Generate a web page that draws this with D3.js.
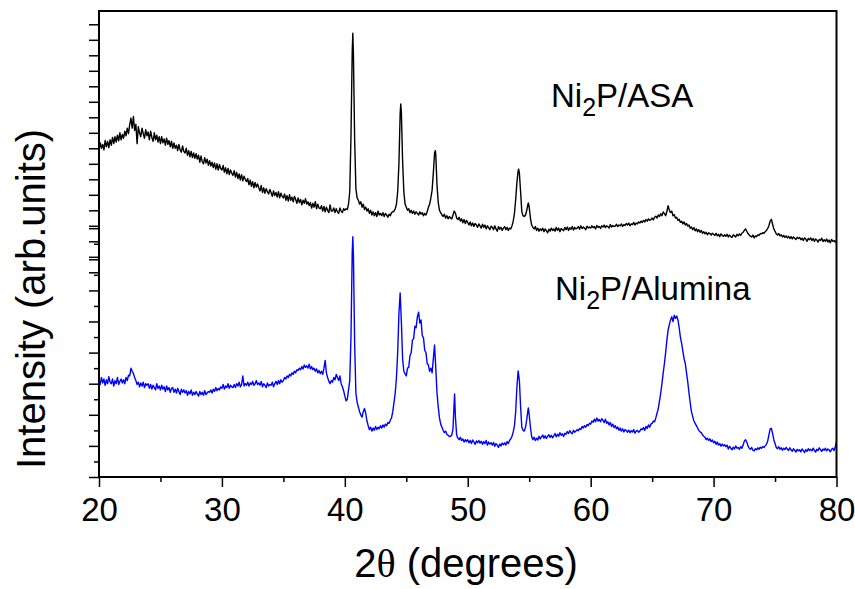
<!DOCTYPE html>
<html>
<head>
<meta charset="utf-8">
<script src="https://cdn.jsdelivr.net/npm/d3@7"></script>
<style>
  html, body { margin: 0; padding: 0; background: #fff; }
  svg { display: block; }
  text { font-family: "Liberation Sans", Arial, sans-serif; fill: #000; }
</style>
</head>
<body>
<svg id="chart" width="855" height="589"></svg>
<script>
// 2θ sampling of both scans: 20° to 80°, 0.1° step
const twoThetaStart = 20, twoThetaEnd = 80, twoThetaStep = 0.1;

// Ni2P/ASA intensity (counts), one row per degree starting at 20°
const asaCounts = [
  790, 835, 800, 825, 790, 850, 810, 845, 805, 855,
  820, 870, 830, 875, 840, 885, 848, 900, 855, 890,
  865, 910, 880, 930, 895, 955, 995, 930, 1005, 915,
  955, 830, 940, 900, 875, 930, 895, 865, 920, 880,
  905, 855, 910, 870, 845, 900, 855, 885, 840, 875,
  830, 875, 835, 860, 820, 865, 825, 850, 810, 845,
  800, 835, 800, 820, 785, 825, 790, 775, 815, 780,
  770, 800, 755, 785, 745, 780, 740, 770, 735, 765,
  730, 755, 710, 750, 715, 700, 740, 705, 730, 690,
  720, 685, 710, 675, 705, 665, 700, 660, 695, 670,
  660, 690, 645, 675, 635, 670, 630, 660, 640, 625,
  655, 615, 645, 605, 635, 595, 630, 590, 620, 600,
  585, 605, 565, 595, 555, 585, 545, 580, 550, 570,
  545, 525, 560, 515, 545, 510, 540, 520, 505, 535,
  515, 490, 525, 495, 515, 485, 520, 480, 510, 490,
  480, 505, 465, 495, 460, 500, 465, 485, 455, 490,
  470, 445, 480, 450, 470, 435, 465, 445, 475, 440,
  455, 430, 450, 415, 445, 420, 455, 410, 440, 415,
  410, 430, 395, 425, 390, 420, 400, 385, 435, 395,
  395, 415, 385, 410, 390, 380, 415, 395, 385, 410,
  400, 410, 405, 440, 520, 880, 1420, 1400, 850, 540,
  480, 465, 440, 455, 420, 440, 405, 420, 395, 410,
  380, 400, 370, 390, 365, 385, 360, 395, 370, 380,
  365, 385, 360, 380, 370, 355, 375, 365, 385, 390,
  395, 410, 440, 520, 700, 1020, 1030, 720, 520, 440,
  420, 400, 410, 385, 400, 380, 395, 375, 390, 380,
  370, 390, 375, 385, 365, 380, 370, 390, 420, 440,
  480, 530, 640, 770, 760, 560, 450, 400, 385, 370,
  360, 375, 350, 365, 345, 360, 350, 345, 370, 395,
  380, 350, 340, 355, 330, 345, 320, 340, 315, 335,
  320, 305, 325, 300, 318, 295, 315, 305, 290, 312,
  300, 285, 310, 290, 305, 280, 300, 288, 275, 298,
  290, 275, 300, 280, 265, 295, 278, 290, 270, 285,
  295, 275, 290, 270, 285, 280, 300, 330, 380, 470,
  580, 655, 640, 520, 390, 365, 360, 370, 400, 440,
  420, 350, 305, 290, 280, 295, 270, 285, 265, 280,
  270, 285, 262, 280, 268, 255, 278, 265, 285, 270,
  280, 265, 290, 270, 285, 262, 282, 275, 268, 290,
  275, 292, 270, 288, 278, 295, 272, 290, 280, 285,
  295, 278, 300, 282, 292, 285, 275, 298, 286, 292,
  285, 300, 288, 295, 280, 302, 290, 296, 283, 300,
  292, 305, 288, 300, 295, 285, 308, 292, 302, 295,
  298, 310, 295, 305, 300, 312, 296, 308, 302, 315,
  305, 318, 300, 312, 308, 322, 305, 318, 312, 325,
  318, 330, 322, 335, 325, 340, 330, 345, 335, 340,
  350, 338, 355, 362, 350, 370, 360, 378, 365, 390,
  378, 365, 392, 430, 400, 385, 395, 365, 372, 350,
  355, 335, 342, 322, 330, 312, 325, 305, 315, 298,
  305, 285, 292, 275, 288, 268, 280, 262, 275, 258,
  270, 252, 262, 248, 258, 242, 255, 250, 240, 252,
  245, 238, 252, 235, 245, 230, 248, 238, 232, 242,
  232, 245, 228, 240, 230, 225, 242, 235, 228, 245,
  235, 248, 238, 252, 258, 270, 280, 265, 250, 240,
  232, 228, 240, 222, 235, 230, 242, 238, 250, 248,
  255, 252, 262, 270, 282, 300, 330, 342, 310, 280,
  265, 248, 240, 250, 235, 242, 228, 238, 225, 235,
  222, 232, 218, 230, 215, 228, 220, 212, 226, 218,
  225, 210, 220, 205, 222, 215, 200, 218, 210, 222,
  205, 218, 200, 215, 208, 195, 212, 205, 220, 198,
  210, 200, 215, 195, 208, 190, 212, 200, 205, 195,
  205
];

// Reflection maxima of Ni2P/ASA between grid points: [2θ, counts]
const asaPeakTops = [[40.65, 1542], [44.55, 1086], [47.36, 784], [54.14, 666], [54.93, 447]];

// Ni2P/Alumina intensity (counts), one row per degree starting at 20°
const aluminaCounts = [
  620, 595, 640, 605, 630, 590, 625, 600, 645, 610,
  600, 630, 585, 620, 600, 640, 595, 615, 630, 605,
  625, 600, 640, 620, 655, 650, 700, 680, 665, 640,
  620, 595, 610, 580, 605, 585, 610, 575, 600, 590,
  600, 570, 595, 565, 590, 575, 560, 600, 570, 585,
  560, 590, 565, 580, 550, 585, 560, 575, 545, 570,
  575, 545, 565, 540, 570, 550, 530, 565, 545, 560,
  540, 555, 525, 550, 535, 560, 525, 545, 530, 550,
  535, 520, 550, 530, 545, 525, 555, 530, 540, 550,
  545, 560, 540, 565, 550, 575, 555, 570, 560, 580,
  570, 595, 565, 585, 575, 600, 570, 590, 580, 575,
  595, 575, 600, 585, 610, 580, 595, 650, 585, 600,
  590, 610, 585, 605, 595, 615, 590, 600, 620, 595,
  605, 590, 615, 580, 600, 590, 575, 605, 585, 595,
  590, 610, 580, 600, 615, 595, 620, 600, 625, 610,
  620, 640, 630, 650, 640, 660, 650, 670, 660, 680,
  670, 690, 685, 700, 690, 710, 695, 720, 705, 715,
  700, 725, 695, 710, 690, 700, 680, 695, 670, 685,
  665, 680, 660, 700, 750, 670, 640, 615, 600, 620,
  610, 640, 625, 660, 640, 620, 650, 600, 580, 555,
  520, 490, 500, 560, 620, 900, 1440, 1420, 850, 540,
  480, 450, 420, 400, 385, 420, 440, 410, 360, 330,
  305, 320, 295, 315, 300, 325, 305, 320, 310, 330,
  315, 335, 320, 340, 330, 350, 345, 365, 380, 420,
  480, 540, 640, 800, 1050, 1183, 1000, 760, 680, 665,
  650, 700, 705, 780, 800, 880, 890, 970, 960, 1030,
  1060, 990, 1010, 910, 895, 815, 800, 730, 720, 680,
  700, 670, 760, 849, 700, 540, 450, 380, 340, 320,
  300, 285, 295, 275, 268, 260, 262, 270, 310, 490,
  380, 268, 250, 240, 255, 235, 245, 225, 240, 228,
  240, 220, 235, 215, 238, 225, 210, 232, 220, 235,
  218, 230, 210, 228, 215, 235, 205, 225, 212, 220,
  205, 222, 198, 215, 205, 190, 212, 200, 218, 208,
  220, 205, 228, 215, 235, 245, 262, 290, 330, 420,
  580, 682, 620, 450, 320, 300, 295, 320, 370, 430,
  400, 320, 260, 240, 255, 235, 250, 238, 262, 245,
  258, 270, 250, 265, 248, 262, 272, 255, 268, 252,
  265, 280, 258, 275, 262, 285, 268, 278, 260, 282,
  275, 292, 280, 298, 285, 278, 300, 288, 295, 305,
  298, 312, 305, 325, 315, 330, 320, 338, 330, 345,
  340, 360, 352, 372, 355, 380, 360, 370, 355, 375,
  365, 350, 372, 345, 355, 335, 350, 325, 340, 318,
  330, 310, 322, 300, 315, 295, 310, 290, 305, 298,
  288, 302, 285, 298, 290, 305, 282, 295, 300, 288,
  295, 310, 305, 318, 300, 325, 312, 335, 320, 340,
  345, 360, 355, 380, 410, 440, 490, 540, 600, 670,
  730, 800, 880, 945, 980, 1010, 1030, 1000, 1040, 1020,
  1035, 1010, 960, 900, 860, 810, 760, 730, 670, 610,
  540, 476, 420, 390, 360, 345, 330, 315, 300, 290,
  285, 270, 262, 255, 240, 250, 235, 245, 228, 238,
  220, 230, 210, 225, 205, 215, 198, 212, 200, 208,
  195, 205, 180, 198, 185, 175, 192, 180, 200, 185,
  190, 178, 195, 185, 205, 230, 240, 225, 200, 185,
  178, 190, 172, 168, 182, 175, 188, 178, 192, 185,
  195, 190, 200, 210, 230, 270, 310, 313, 280, 240,
  215, 190, 182, 195, 178, 188, 172, 185, 176, 190,
  180, 170, 188, 175, 165, 182, 172, 160, 178, 168,
  175, 162, 180, 170, 158, 176, 165, 182, 170, 178,
  168, 185, 172, 160, 178, 170, 188, 175, 165, 180,
  172, 185, 168, 180, 175, 162, 178, 185, 170, 195,
  227
];

// Reflection maxima of Ni2P/Alumina between grid points: [2θ, counts]
const aluminaPeakTops = [[40.65, 1545], [48.93, 534], [54.93, 444]];

// Axis ticks
const xMajorTicks = [20, 30, 40, 50, 60, 70, 80];
const xMinorTicks = [25, 35, 45, 55, 65, 75];
const yTicks = [0, 100, 200, 300, 400, 500, 600, 700, 800, 900, 1000, 1100, 1200, 1300, 1400, 1500, 1600];

// Sample labels
const sampleLabels = [
  { pre: "Ni", sub: "2", post: "P/ASA", x: 551, y: 107 },
  { pre: "Ni", sub: "2", post: "P/Alumina", x: 555, y: 300 }
];

const svg = d3.select("#chart");
const plotLeft = 99, plotRight = 836.5, plotTop = 11, plotBottom = 477;

const x = d3.scaleLinear().domain([20, 80]).range([plotLeft, plotRight]);
// Each pattern sits in its own vertical layer (offset stacking)
const yUpper = d3.scaleLinear().domain([0, 1600]).range([272.3, 24.3]);
const yLower = d3.scaleLinear().domain([0, 1600]).range([477, 228.2]);

function buildSeries(counts, tops) {
  const pts = counts.map((c, i) => [+(twoThetaStart + i * twoThetaStep).toFixed(2), c]);
  return pts.concat(tops).sort((a, b) => a[0] - b[0]);
}

const asaSeries = buildSeries(asaCounts, asaPeakTops);
const aluminaSeries = buildSeries(aluminaCounts, aluminaPeakTops);

// Patterns
const lineUpper = d3.line().x(d => x(d[0])).y(d => yUpper(d[1]));
const lineLower = d3.line().x(d => x(d[0])).y(d => yLower(d[1]));

svg.append("path").datum(aluminaSeries)
  .attr("d", lineLower).attr("fill", "none")
  .attr("stroke", "#0000ff").attr("stroke-width", 1.4).attr("stroke-linejoin", "round");
svg.append("path").datum(asaSeries)
  .attr("d", lineUpper).attr("fill", "none")
  .attr("stroke", "#000").attr("stroke-width", 1.4).attr("stroke-linejoin", "round");

// Left ticks: upper layer (all major) and lower layer (alternating)
const upperAxis = svg.append("g").attr("transform", `translate(${plotLeft},0)`)
  .call(d3.axisLeft(yUpper).tickValues(yTicks).tickSize(10).tickFormat(""));
const lowerAxis = svg.append("g").attr("transform", `translate(${plotLeft},0)`)
  .call(d3.axisLeft(yLower).tickValues(yTicks).tickSize(10).tickFormat(""));
lowerAxis.selectAll(".tick line").attr("x2", d => (d % 200 === 0 ? -10 : -5));
[upperAxis, lowerAxis].forEach(g => {
  g.select(".domain").remove();
  g.selectAll(".tick line").attr("stroke", "#000").attr("stroke-width", 1.5);
});

// Bottom axis
const xAxis = svg.append("g").attr("transform", `translate(0,${plotBottom})`)
  .call(d3.axisBottom(x).tickValues(xMajorTicks).tickSize(10).tickPadding(11).tickFormat(d3.format("d")));
xAxis.select(".domain").remove();
xAxis.selectAll(".tick line").attr("stroke", "#000").attr("stroke-width", 1.5);
xAxis.selectAll(".tick text")
  .style("font-family", '"Liberation Sans", Arial, sans-serif')
  .style("font-size", "33px").attr("fill", "#000");

const xMinor = svg.append("g").attr("transform", `translate(0,${plotBottom})`)
  .call(d3.axisBottom(x).tickValues(xMinorTicks).tickSize(5).tickFormat(""));
xMinor.select(".domain").remove();
xMinor.selectAll(".tick line").attr("stroke", "#000").attr("stroke-width", 1.5);

// Frame
svg.append("rect")
  .attr("x", plotLeft).attr("y", plotTop)
  .attr("width", plotRight - plotLeft).attr("height", plotBottom - plotTop)
  .attr("fill", "none").attr("stroke", "#000").attr("stroke-width", 2);

// Axis titles
const xt = svg.append("text")
  .attr("x", 466).attr("y", 577)
  .attr("text-anchor", "middle").style("font-size", "40px");
xt.append("tspan").text("2");
xt.append("tspan").style("font-family", '"Liberation Serif", "DejaVu Serif", serif').text("θ");
xt.append("tspan").text(" (degrees)");

svg.append("text")
  .attr("transform", "translate(45,299) rotate(-90)")
  .attr("text-anchor", "middle").style("font-size", "40px")
  .text("Intensity (arb.units)");

// Sample labels with subscript
sampleLabels.forEach(l => {
  const t = svg.append("text").attr("x", l.x).attr("y", l.y).style("font-size", "33px");
  t.append("tspan").text(l.pre);
  t.append("tspan").attr("dy", 9).style("font-size", "25px").text(l.sub);
  t.append("tspan").attr("dy", -9).text(l.post);
});
</script>
</body>
</html>
